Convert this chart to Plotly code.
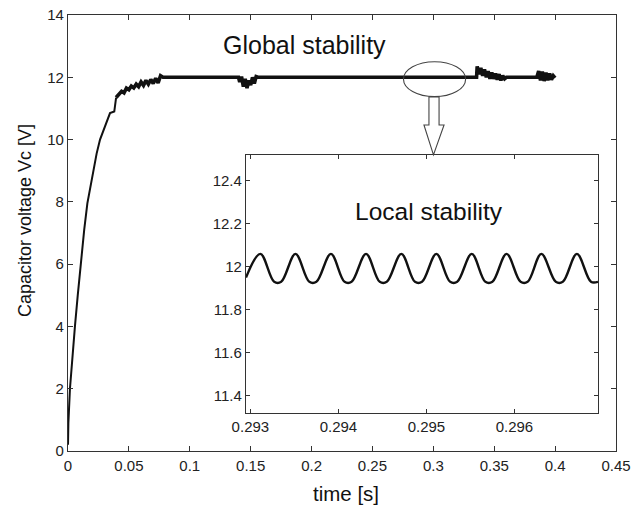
import plotly.graph_objects as go

# ---------------- data ----------------
# transient rise of the capacitor voltage
t_rise = [0.0, 0.0003, 0.0016, 0.0035, 0.0057, 0.008, 0.0107, 0.0133, 0.0159,
          0.0186, 0.021, 0.0235, 0.0263, 0.029, 0.0318, 0.0345, 0.038, 0.0395]
v_rise = [0.2, 0.9, 2.0, 3.0, 4.0, 5.0, 6.1, 7.1, 7.95,
          8.5, 9.1, 9.55, 10.0, 10.3, 10.55, 10.85, 10.9, 11.35]

# settling / steady part (thick because of the compressed ripple)
t_steady = [0.0395, 0.042, 0.044, 0.046, 0.048, 0.050, 0.052, 0.054, 0.056, 0.058,
            0.060, 0.062, 0.064, 0.066, 0.068, 0.070, 0.072, 0.074, 0.076, 0.078,
            0.140, 0.141, 0.1425, 0.144, 0.1455, 0.147, 0.1485, 0.150, 0.1515,
            0.153, 0.1545, 0.156,
            0.3355, 0.336, 0.3375, 0.339, 0.3405, 0.342, 0.3435, 0.345, 0.3465,
            0.348, 0.3495, 0.351, 0.3525, 0.354, 0.3555, 0.357, 0.3585, 0.360,
            0.385, 0.3865, 0.388, 0.3895, 0.391, 0.3925, 0.394, 0.3955, 0.397,
            0.3985, 0.400]
v_steady = [11.35, 11.45, 11.55, 11.5, 11.65, 11.6, 11.72, 11.66, 11.78, 11.7,
            11.85, 11.74, 11.9, 11.78, 11.93, 11.8, 11.97, 11.82, 12.05, 12.0,
            12.0, 11.85, 12.02, 11.7, 11.95, 11.65, 11.9, 11.75, 12.0,
            11.8, 12.02, 12.0,
            12.0, 12.35, 12.1, 12.3, 12.05, 12.25, 12.0, 12.2, 11.95,
            12.15, 11.95, 12.12, 11.92, 12.1, 11.9, 12.05, 11.95, 12.0,
            12.0, 12.2, 11.9, 12.18, 11.88, 12.15, 11.9, 12.12, 11.92,
            12.05, 11.98]

# zoomed ripple (inset): extrema
t_zoom = [0.29295, 0.293113, 0.29327, 0.29335, 0.293512, 0.29367, 0.29375,
          0.293915, 0.29407, 0.29415, 0.294314, 0.29447, 0.29455, 0.294715,
          0.29487, 0.29495, 0.295113, 0.29527, 0.29535, 0.295515, 0.29567,
          0.29575, 0.295911, 0.29607, 0.29615, 0.296306, 0.29647, 0.29655,
          0.29671, 0.29687, 0.29695]
v_zoom = [11.95, 12.06, 11.93, 11.93, 12.06, 11.93, 11.93,
          12.06, 11.93, 11.93, 12.06, 11.93, 11.93, 12.06,
          11.93, 11.93, 12.06, 11.93, 11.93, 12.06, 11.93,
          11.93, 12.06, 11.93, 11.93, 12.06, 11.93, 11.93,
          12.06, 11.93, 11.93]

main_xticks = [0, 0.05, 0.1, 0.15, 0.2, 0.25, 0.3, 0.35, 0.4, 0.45]
main_xlabels = ["0", "0.05", "0.1", "0.15", "0.2", "0.25", "0.3", "0.35", "0.4", "0.45"]
main_yticks = [0, 2, 4, 6, 8, 10, 12, 14]
inset_xticks = [0.293, 0.294, 0.295, 0.296]
inset_xlabels = ["0.293", "0.294", "0.295", "0.296"]
inset_yticks = [11.4, 11.6, 11.8, 12.0, 12.2, 12.4]
inset_ylabels = ["11.4", "11.6", "11.8", "12", "12.2", "12.4"]

# ---------------- figure ----------------
FONT = "Liberation Sans, Arial, sans-serif"
LINE = "#111111"
AX = "#333333"

fig = go.Figure()
fig.add_trace(go.Scatter(x=t_rise, y=v_rise, mode="lines",
                         line=dict(color=LINE, width=2), xaxis="x", yaxis="y",
                         showlegend=False))
fig.add_trace(go.Scatter(x=t_steady, y=v_steady, mode="lines",
                         line=dict(color=LINE, width=3.6), xaxis="x", yaxis="y",
                         showlegend=False))
fig.add_trace(go.Scatter(x=t_zoom, y=v_zoom, mode="lines",
                         line=dict(color=LINE, width=2.4, shape="spline", smoothing=1.0),
                         xaxis="x2", yaxis="y2", showlegend=False))

axis_common = dict(showline=True, linecolor=AX, linewidth=1.3, mirror="ticks",
                   ticks="inside", tickcolor=AX, showgrid=False, zeroline=False,
                   automargin=False,
                   tickfont=dict(family=FONT, size=15, color="#222"))

fig.update_layout(
    width=640, height=507,
    margin=dict(l=68, r=24, t=15, b=56, autoexpand=False),
    paper_bgcolor="white", plot_bgcolor="white",
    font=dict(family=FONT, color="#222"),
    xaxis=dict(range=[0, 0.45], tickvals=main_xticks, ticktext=main_xlabels,
               ticklen=5, domain=[0, 1], ticklabelstandoff=1, **axis_common),
    yaxis=dict(range=[0, 14], tickvals=main_yticks, ticklen=5, domain=[0, 1],
               ticklabelstandoff=0, **axis_common),
    xaxis2=dict(range=[0.29295, 0.29695], tickvals=inset_xticks, ticktext=inset_xlabels,
                ticklen=4, domain=[0.3248, 0.9672], anchor="y2",
                ticklabelstandoff=0, **axis_common),
    yaxis2=dict(range=[11.32, 12.52], tickvals=inset_yticks, ticktext=inset_ylabels,
                ticklen=4, domain=[0.0872, 0.6789], anchor="x2",
                ticklabelstandoff=0, **axis_common),
)

# inset white background
fig.add_shape(type="rect", xref="x2 domain", yref="y2 domain", x0=0, x1=1, y0=0, y1=1,
              fillcolor="white", line=dict(width=0), layer="below")

# ellipse around the zoomed region
fig.add_shape(type="circle", xref="x", yref="y", x0=0.2755, x1=0.3265, y0=11.38, y1=12.50,
              line=dict(color="#444", width=1.1))

# hollow block arrow from ellipse to inset
arrow_path = ("M 0.2964 11.37 L 0.3047 11.37 L 0.3047 10.47 L 0.3088 10.47 "
              "L 0.3001 9.51 L 0.2923 10.47 L 0.2964 10.47 Z")
fig.add_shape(type="path", xref="x", yref="y", path=arrow_path,
              fillcolor="white", line=dict(color="#444", width=1.1))

# texts
def px_x(px):
    return (px - 68) / 548


def px_y(py):
    return (451 - py) / 436


fig.add_annotation(text="Global stability", xref="paper", yref="paper",
                   x=px_x(304), y=px_y(45), xanchor="center", yanchor="middle",
                   showarrow=False, font=dict(family=FONT, size=25, color="#111"))
fig.add_annotation(text="Local stability", xref="paper", yref="paper",
                   x=px_x(429), y=px_y(211), xanchor="center", yanchor="middle",
                   showarrow=False, font=dict(family=FONT, size=24.5, color="#111"))
fig.add_annotation(text="time [s]", xref="paper", yref="paper",
                   x=px_x(346), y=px_y(494), xanchor="center", yanchor="middle",
                   showarrow=False, font=dict(family=FONT, size=20.5, color="#111"))
fig.add_annotation(text="Capacitor voltage Vc [V]", xref="paper", yref="paper",
                   x=px_x(25), y=px_y(221), xanchor="center", yanchor="middle",
                   showarrow=False, textangle=-90,
                   font=dict(family=FONT, size=18, color="#111"))

fig.write_html("out.html", config={"displayModeBar": False},
               post_script="document.body.style.margin='0px';document.body.style.padding='0px';")
